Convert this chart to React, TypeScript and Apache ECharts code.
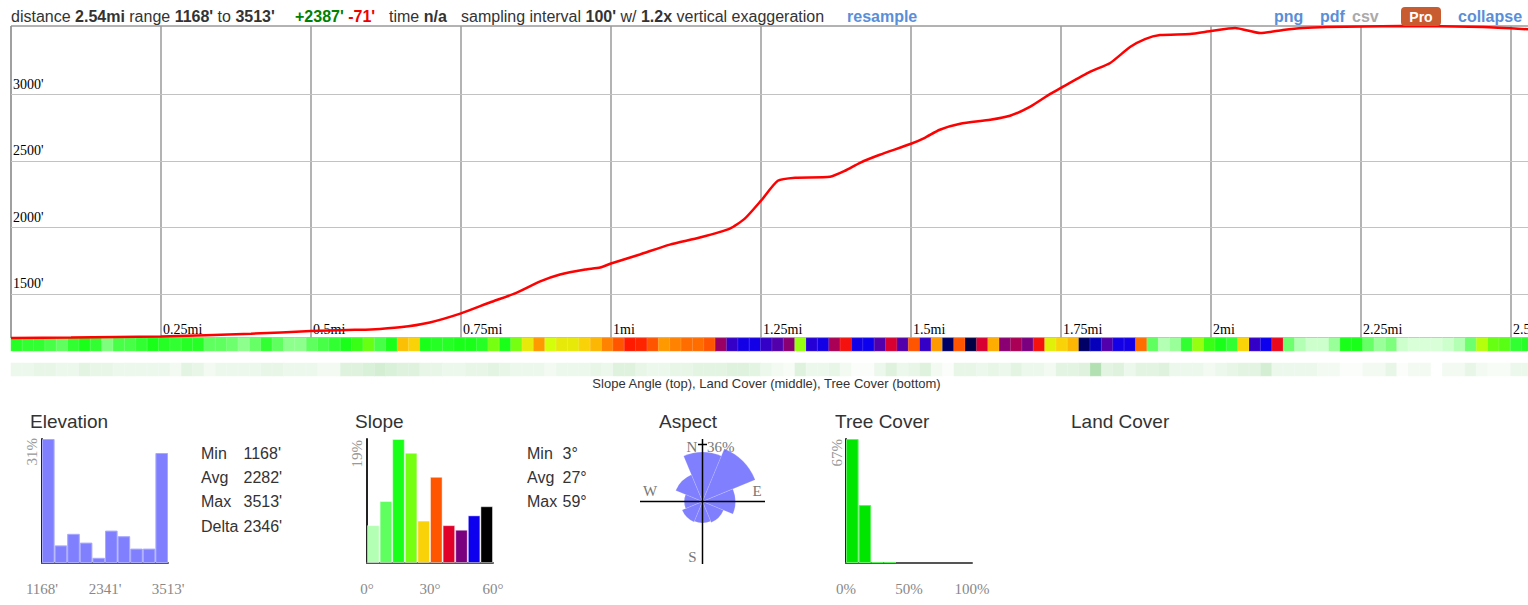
import React, { useEffect, useRef } from 'react';
import * as echarts from 'echarts';

// ---------------- data ----------------
const profileMiles = [0, 0.1, 0.25, 0.4, 0.5, 0.56, 0.6, 0.648, 0.698, 0.75, 0.798, 0.84, 0.882, 0.915, 0.957, 0.982, 1.0, 1.048, 1.098, 1.148, 1.198, 1.223, 1.25, 1.278, 1.307, 1.365, 1.39, 1.415, 1.448, 1.5, 1.523, 1.548, 1.582, 1.632, 1.665, 1.698, 1.732, 1.75, 1.798, 1.832, 1.865, 1.89, 1.915, 1.965, 2.0, 2.04, 2.082, 2.12, 2.153, 2.193, 2.315, 2.453, 2.54];
const profileFeet = [1168, 1172, 1180, 1200, 1220, 1228, 1232, 1248, 1285, 1353, 1435, 1503, 1593, 1645, 1683, 1698, 1728, 1796, 1870, 1923, 1990, 2065, 2200, 2350, 2373, 2380, 2425, 2485, 2545, 2628, 2673, 2733, 2778, 2808, 2838, 2905, 3003, 3048, 3168, 3235, 3355, 3415, 3445, 3453, 3475, 3498, 3460, 3483, 3498, 3505, 3513, 3505, 3485];
const elevGridTicks = [1500, 2000, 2500, 3000];

const slopeCells = [
  14, 13, 13, 11, 9, 13, 15, 13, 7, 11,
  11, 13, 15, 14, 13, 14, 14, 9, 9, 8,
  6, 8.5, 13, 9, 6, 6, 9, 11, 13, 15,
  17, 20, 11, 15, 28, 27, 15, 14, 14, 15,
  15, 14, 21, 15, 21, 25.5, 30, 24, 25.5, 25.5,
  27, 28.5, 31, 33, 36, 35.5, 33, 30, 31, 32,
  32, 33, 43, 48.5, 50.5, 50.5, 48.5, 47, 44, 22,
  49.5, 50.5, 42, 37, 50.5, 51, 47, 39.5, 47, 33,
  48.5, 30, 55, 33, 56, 39.5, 29, 44, 42, 45,
  37, 25, 27, 28.5, 55, 52.5, 47, 50.5, 50.5, 32,
  9, 3, 5, 13, 22, 17, 15, 13, 27, 48.5,
  51, 38, 8, 3, 1.5, 1.5, 5, 15, 15, 8.5,
  5, 7, 1.5, 0.8, 0.8, 0.8, 1.5, 3, 8, 23,
  20, 19, 13, 14,
];
const treeCells = [
  7, 7, 9, 9, 7, 7, 11, 9, 9, 7,
  7, 7, 7, 7, 5, 11, 9, 5, 7, 7,
  7, 7, 9, 9, 7, 7, 7, 5, 5, 13,
  13, 15, 17, 15, 13, 13, 9, 9, 7, 7,
  9, 9, 11, 9, 7, 7, 7, 5, 7, 7,
  7, 9, 7, 13, 13, 9, 7, 7, 9, 9,
  11, 11, 11, 13, 13, 11, 7, 5, 3, 13,
  7, 7, 9, 5, 2, 2, 7, 13, 7, 9,
  13, 5, 2, 9, 9, 7, 9, 7, 11, 7,
  7, 5, 11, 11, 13, 30, 11, 13, 7, 11,
  11, 13, 7, 7, 7, 5, 7, 9, 11, 11,
  17, 7, 7, 7, 7, 5, 5, 2, 2, 5,
  5, 9, 2, 5, 5, 0, 5, 5, 9, 5,
  3, 3, 7, 7,
];
const slopeColorStops = ['#e6ffe6', '#b3ffb3', '#8cff8c', '#5eff5e', '#3cff3c', '#1aff1a', '#48ff15', '#77ff11', '#d4ff0a', '#f9d307', '#ff9900', '#ff5500', '#ff1a00', '#e0002a', '#aa0055', '#7a0080', '#3c00c0', '#0c00ee', '#000088', '#000022', '#000000'];

const elevHist = [31, 4.4, 7.3, 5.1, 1.3, 8.1, 6.7, 3.6, 3.6, 27.5];
const elevHistTicks = ["1168'", "2341'", "3513'"];
const slopeHist = [5.8, 9.5, 19, 16.9, 6.5, 13.2, 5.8, 5.1, 7.3, 8.7];
const slopeHistColors = ['#b3ffb3', '#5eff5e', '#1aff1a', '#77ff11', '#f9d307', '#ff5500', '#e0002a', '#7a0080', '#0c00ee', '#000000'];
const slopeHistTicks = ['0°', '30°', '60°'];
const treeHist = [67, 31.3, 0.5, 0.5, 0, 0, 0, 0, 0, 0];
const treeHistTicks = ['0%', '50%', '100%'];
const aspectDirs = ['N', 'NE', 'E', 'SE', 'S', 'SW', 'W', 'NW'];
const aspectPct = [27, 36, 12, 5.7, 5.1, 5.4, 3.7, 9.3];
const elevStats = [['Min', "1168'"], ['Avg', "2282'"], ['Max', "3513'"], ['Delta', "2346'"]];
const slopeStats = [['Min', '3°'], ['Avg', '27°'], ['Max', '59°']];

// ---------------- styling ----------------
const SANS = '"Liberation Sans", Arial, Helvetica, sans-serif';
const SERIF = '"Liberation Serif", "Times New Roman", serif';
const LINK = '#5b8ed8';
const CELL_W = 11.36;

function txt(x: number, y: number, text: string, o: any = {}) {
  return {
    type: 'text', x, y, z: 20, silent: true,
    style: {
      text,
      fontFamily: o.family || SANS,
      fontSize: o.size || 16,
      fontWeight: o.weight || 'normal',
      fill: o.fill || '#333',
      textAlign: o.align || 'left', align: o.align || 'left',
      textVerticalAlign: 'middle', verticalAlign: 'middle',
      rich: o.rich,
    },
    rotation: o.rotation || 0,
  };
}
function rich(color: string, weight = 'bold') {
  return { fontFamily: SANS, fontSize: 16, fontWeight: weight, fill: color };
}

function histAxes(gridIndex: number, ticks: string[]) {
  return [
    {
      type: 'category', gridIndex, position: 'bottom', data: Array.from({ length: 10 }, (_, i) => String(i)),
      boundaryGap: true,
      axisLine: { show: true, lineStyle: { color: '#555', width: 2 } },
      axisTick: { show: false }, axisLabel: { show: false }, splitLine: { show: false },
    },
    {
      type: 'value', gridIndex, position: 'bottom', min: 0, max: 10, interval: 5,
      axisLine: { show: false }, axisTick: { show: false }, splitLine: { show: false },
      axisLabel: {
        show: true, margin: 18, fontFamily: SERIF, fontSize: 15, color: '#888',
        formatter: (v: number) => ticks[Math.round(v / 5)] || '',
      },
    },
  ];
}
function histY(gridIndex: number, data: number[]) {
  return {
    type: 'value', gridIndex, min: 0, max: Math.max(...data),
    axisLine: { show: true, lineStyle: { color: '#222', width: 2 } },
    axisTick: { show: false }, axisLabel: { show: false }, splitLine: { show: false },
  };
}

function buildOption() {
  const nCells = slopeCells.length;
  const histGrid = (left: number) => ({ left, top: 439, width: 126, height: 124, outerBoundsMode: 'none' });
  const aspectMax = Math.max(...aspectPct);

  const graphic: any[] = [
    // header
    txt(11, 16, "distance {b|2.54mi} range {b|1168'} to {b|3513'}", { rich: { b: rich('#333') } }),
    txt(295, 16, "{g|+2387'} {r|-71'}", { rich: { g: rich('#008000'), r: rich('#ee0000') } }),
    txt(389, 16, 'time {b|n/a}', { rich: { b: rich('#333') } }),
    txt(461, 16, "sampling interval {b|100'} w/ {b|1.2x} vertical exaggeration", { rich: { b: rich('#333') } }),
    txt(847, 16, 'resample', { weight: 'bold', fill: LINK }),
    txt(1274, 16, 'png', { weight: 'bold', fill: LINK }),
    txt(1320, 16, 'pdf', { weight: 'bold', fill: LINK }),
    txt(1352, 16, 'csv', { weight: 'bold', fill: '#aaaaaa' }),
    { type: 'rect', shape: { x: 1401, y: 7, width: 40, height: 19, r: 4 }, style: { fill: '#c95b30' }, z: 19, silent: true },
    txt(1421, 16.5, 'Pro', { weight: 'bold', fill: '#ffffff', size: 14, align: 'center' }),
    txt(1458, 16, 'collapse', { weight: 'bold', fill: LINK }),
    // caption
    txt(766.5, 383, 'Slope Angle (top), Land Cover (middle), Tree Cover (bottom)', { size: 13, align: 'center' }),
    // titles
    txt(30, 421, 'Elevation', { size: 19 }),
    txt(355, 421, 'Slope', { size: 19 }),
    txt(659, 421, 'Aspect', { size: 19 }),
    txt(835, 421, 'Tree Cover', { size: 19 }),
    txt(1071, 421, 'Land Cover', { size: 19 }),
    // histogram max labels (rotated)
    txt(32, 438, `${Math.max(...elevHist)}%`, { family: SERIF, size: 15, fill: '#999', align: 'right', rotation: Math.PI / 2 }),
    txt(356.5, 440, `${Math.max(...slopeHist)}%`, { family: SERIF, size: 15, fill: '#999', align: 'right', rotation: Math.PI / 2 }),
    txt(836.5, 439, `${Math.max(...treeHist)}%`, { family: SERIF, size: 15, fill: '#999', align: 'right', rotation: Math.PI / 2 }),
    // aspect cross
    { type: 'line', shape: { x1: 702.5, y1: 439, x2: 702.5, y2: 564 }, style: { stroke: '#000', lineWidth: 1.5 }, z: 15, silent: true },
    { type: 'line', shape: { x1: 640, y1: 501.5, x2: 765, y2: 501.5 }, style: { stroke: '#000', lineWidth: 1.5 }, z: 15, silent: true },
    { type: 'line', shape: { x1: 698, y1: 444.5, x2: 707, y2: 444.5 }, style: { stroke: '#000', lineWidth: 1.5 }, z: 15, silent: true },
    txt(692, 447, 'N', { family: SERIF, size: 15, fill: '#777', align: 'center' }),
    txt(707, 447, `${aspectMax}%`, { family: SERIF, size: 15, fill: '#777' }),
    txt(650, 491, 'W', { family: SERIF, size: 15, fill: '#777', align: 'center' }),
    txt(757, 491, 'E', { family: SERIF, size: 15, fill: '#777', align: 'center' }),
    txt(692.5, 557, 'S', { family: SERIF, size: 15, fill: '#777', align: 'center' }),
  ];
  elevStats.forEach((r, i) => {
    graphic.push(txt(201, 453 + i * 24.4, r[0]));
    graphic.push(txt(243.5, 453 + i * 24.4, r[1]));
  });
  slopeStats.forEach((r, i) => {
    graphic.push(txt(527, 453 + i * 24.4, r[0]));
    graphic.push(txt(562.5, 453 + i * 24.4, r[1]));
  });

  const catStrip = (gridIndex: number) => ({
    type: 'category', gridIndex, data: slopeCells.map((_, i) => String(i)), show: false, boundaryGap: true,
  });
  const catStripY = (gridIndex: number) => ({ type: 'category', gridIndex, data: ['v'], show: false });

  return {
    animation: false,
    backgroundColor: '#ffffff',
    grid: [
      { left: 11, top: 26, width: 1524, height: 312, show: true, borderColor: '#666', borderWidth: 1, backgroundColor: 'transparent', outerBoundsMode: 'none' },
      { left: 11, top: 338, width: nCells * CELL_W, height: 13, outerBoundsMode: 'none' },
      { left: 11, top: 363, width: nCells * CELL_W, height: 13, outerBoundsMode: 'none' },
      histGrid(42),
      histGrid(367),
      histGrid(846),
    ],
    xAxis: [
      {
        type: 'value', gridIndex: 0, min: 0, max: 2.54, interval: 0.25,
        axisLine: { show: false }, axisTick: { show: false },
        splitLine: { show: true, lineStyle: { color: '#9a9a9a', width: 1.5 } },
        axisLabel: {
          show: true, inside: true, margin: 2, align: 'left', padding: [0, 0, 0, 2],
          fontFamily: SERIF, fontSize: 14, color: '#000',
          formatter: (v: number) => (v === 0 || Math.abs(v * 4 - Math.round(v * 4)) > 1e-6 ? '' : `${v}mi`),
        },
      },
      catStrip(1),
      catStrip(2),
      ...histAxes(3, elevHistTicks),
      ...histAxes(4, slopeHistTicks),
      ...histAxes(5, treeHistTicks),
    ],
    yAxis: [
      { type: 'value', gridIndex: 0, min: 1168, max: 3513, show: false, splitLine: { show: false } },
      catStripY(1),
      catStripY(2),
      histY(3, elevHist),
      histY(4, slopeHist),
      histY(5, treeHist),
    ],
    polar: { center: [702.5, 501.5], radius: 57 },
    angleAxis: {
      type: 'category', data: aspectDirs, startAngle: 90 + 180 / aspectDirs.length, clockwise: true,
      axisLine: { show: false }, axisTick: { show: false }, axisLabel: { show: false }, splitLine: { show: false },
    },
    radiusAxis: { min: 0, max: Math.sqrt(aspectMax), show: false, axisLine: { show: false }, axisLabel: { show: false }, splitLine: { show: false }, axisTick: { show: false } },
    visualMap: [
      { type: 'continuous', show: false, seriesIndex: 1, dimension: 2, min: 0, max: 60, inRange: { color: slopeColorStops } },
      { type: 'continuous', show: false, seriesIndex: 2, dimension: 2, min: 0, max: 100, inRange: { color: ['#ffffff', '#009900'] } },
    ],
    series: [
      {
        type: 'line', xAxisIndex: 0, yAxisIndex: 0, z: 3, silent: true,
        data: profileMiles.map((m, i) => [m, profileFeet[i]]),
        symbol: 'none', showSymbol: false, smooth: 0.2, clip: false,
        lineStyle: { color: '#ff0000', width: 2.5 },
        markLine: {
          z: 1, silent: true, symbol: ['none', 'none'], animation: false,
          lineStyle: { color: '#c2c2c2', width: 1, type: 'solid' },
          emphasis: { disabled: true },
          label: {
            show: true, position: 'insideStartTop', distance: [2, 3],
            fontFamily: SERIF, fontSize: 14, color: '#000',
            formatter: (p: any) => `${p.value}'`,
          },
          data: elevGridTicks.map((v) => ({ yAxis: v })),
        },
      },
      {
        type: 'heatmap', xAxisIndex: 1, yAxisIndex: 1, silent: true,
        data: slopeCells.map((v, i) => [i, 0, v]),
        itemStyle: { borderColor: 'rgba(255,255,255,0.3)', borderWidth: 0.5 },
      },
      {
        type: 'heatmap', xAxisIndex: 2, yAxisIndex: 2, silent: true,
        data: treeCells.map((v, i) => [i, 0, v]),
        itemStyle: { borderColor: 'rgba(255,255,255,0.3)', borderWidth: 0.5 },
      },
      {
        type: 'bar', xAxisIndex: 3, yAxisIndex: 3, silent: true, barCategoryGap: '0%',
        data: elevHist,
        itemStyle: { color: '#8080ff', borderColor: '#a8a8ff', borderWidth: 1 },
      },
      {
        type: 'bar', xAxisIndex: 5, yAxisIndex: 4, silent: true, barCategoryGap: '0%',
        data: slopeHist.map((v, i) => ({ value: v, itemStyle: { color: slopeHistColors[i] } })),
        itemStyle: { borderColor: 'rgba(255,255,255,0.45)', borderWidth: 1 },
      },
      {
        type: 'bar', xAxisIndex: 7, yAxisIndex: 5, silent: true, barCategoryGap: '0%',
        data: treeHist.map((v) => (v > 0 ? v : null)),
        itemStyle: { color: '#00e600', borderColor: '#66ee66', borderWidth: 1 },
      },
      {
        type: 'bar', coordinateSystem: 'polar', silent: true, barCategoryGap: '0%',
        data: aspectPct.map((v) => Math.sqrt(v)),
        itemStyle: { color: '#8080ff', borderColor: 'rgba(255,255,255,0.25)', borderWidth: 0.5 },
        z: 5,
      },
    ],
    graphic,
  };
}

export default function App() {
  const ref = useRef<HTMLDivElement>(null);
  useEffect(() => {
    document.body.style.margin = '0';
    document.body.style.overflow = 'hidden';
    const chart = echarts.init(ref.current as HTMLDivElement, null, { renderer: 'svg' });
    chart.setOption(buildOption() as any);
    return () => chart.dispose();
  }, []);
  return <div ref={ref} style={{ width: 1528, height: 605 }} />;
}
